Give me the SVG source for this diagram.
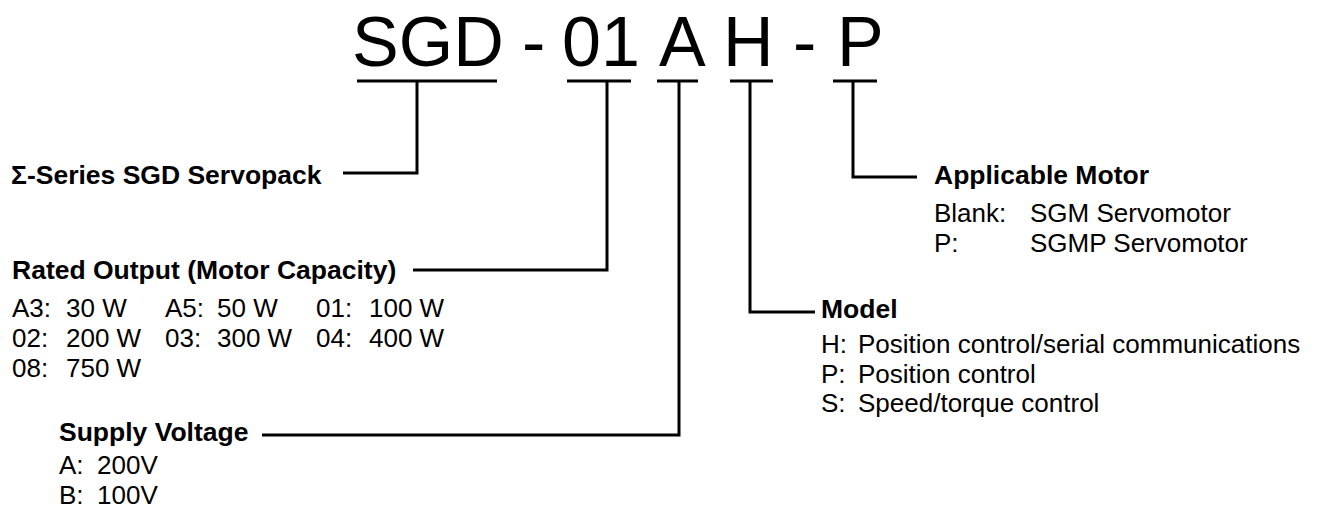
<svg xmlns="http://www.w3.org/2000/svg" width="1324" height="514" viewBox="0 0 1324 514">
<style>
.t{font-family:"Liberation Sans",Arial,sans-serif;fill:#000}
.big{font-size:70px}
.b{font-size:26.5px;font-weight:bold}
.r{font-size:26px}
.c{stroke:#000;stroke-width:3;fill:none;stroke-linejoin:miter;stroke-linecap:butt}
</style>
<rect width="1324" height="514" fill="#fff"/>
<g id="code">
<text class="t big" x="352" y="66">SGD</text>
<text class="t big" x="522" y="66">-</text>
<text class="t big" x="562" y="66">01</text>
<text class="t big" x="659" y="66">A</text>
<text class="t big" x="723" y="66">H</text>
<text class="t big" x="793" y="66">-</text>
<text class="t big" x="837" y="66">P</text>
</g>
<g id="connectors">
<path class="c" d="M357 81H497M417 81V173H343"/>
<path class="c" d="M567 81H631M607 81V270H413"/>
<path class="c" d="M657 81H698M679 81V435H262"/>
<path class="c" d="M730 81H773M750 81V312H815"/>
<path class="c" d="M833 81H877M853 81V177H917"/>
</g>
<g id="servopack">
<text class="t b" x="11" y="184">Σ-Series SGD Servopack</text>
</g>
<g id="rated-output">
<text class="t b" x="12" y="279">Rated Output (Motor Capacity)</text>
<text class="t r" x="12" y="317">A3:</text><text class="t r" x="66" y="317">30 W</text>
<text class="t r" x="165" y="317">A5:</text><text class="t r" x="217" y="317">50 W</text>
<text class="t r" x="316" y="317">01:</text><text class="t r" x="369" y="317">100 W</text>
<text class="t r" x="12" y="347">02:</text><text class="t r" x="66" y="347">200 W</text>
<text class="t r" x="165" y="347">03:</text><text class="t r" x="217" y="347">300 W</text>
<text class="t r" x="316" y="347">04:</text><text class="t r" x="369" y="347">400 W</text>
<text class="t r" x="12" y="377">08:</text><text class="t r" x="66" y="377">750 W</text>
</g>
<g id="supply-voltage">
<text class="t b" x="59" y="441">Supply Voltage</text>
<text class="t r" x="59" y="474">A:</text><text class="t r" x="97" y="474">200V</text>
<text class="t r" x="59" y="504">B:</text><text class="t r" x="97" y="504">100V</text>
</g>
<g id="model">
<text class="t b" x="821" y="318">Model</text>
<text class="t r" x="821" y="353">H:</text><text class="t r" x="858" y="353">Position control/serial communications</text>
<text class="t r" x="821" y="382.5">P:</text><text class="t r" x="858" y="382.5">Position control</text>
<text class="t r" x="821" y="412">S:</text><text class="t r" x="858" y="412">Speed/torque control</text>
</g>
<g id="applicable-motor">
<text class="t b" x="934" y="184">Applicable Motor</text>
<text class="t r" x="934" y="222">Blank:</text><text class="t r" x="1030" y="222">SGM Servomotor</text>
<text class="t r" x="934" y="251.5">P:</text><text class="t r" x="1030" y="251.5">SGMP Servomotor</text>
</g>
</svg>
